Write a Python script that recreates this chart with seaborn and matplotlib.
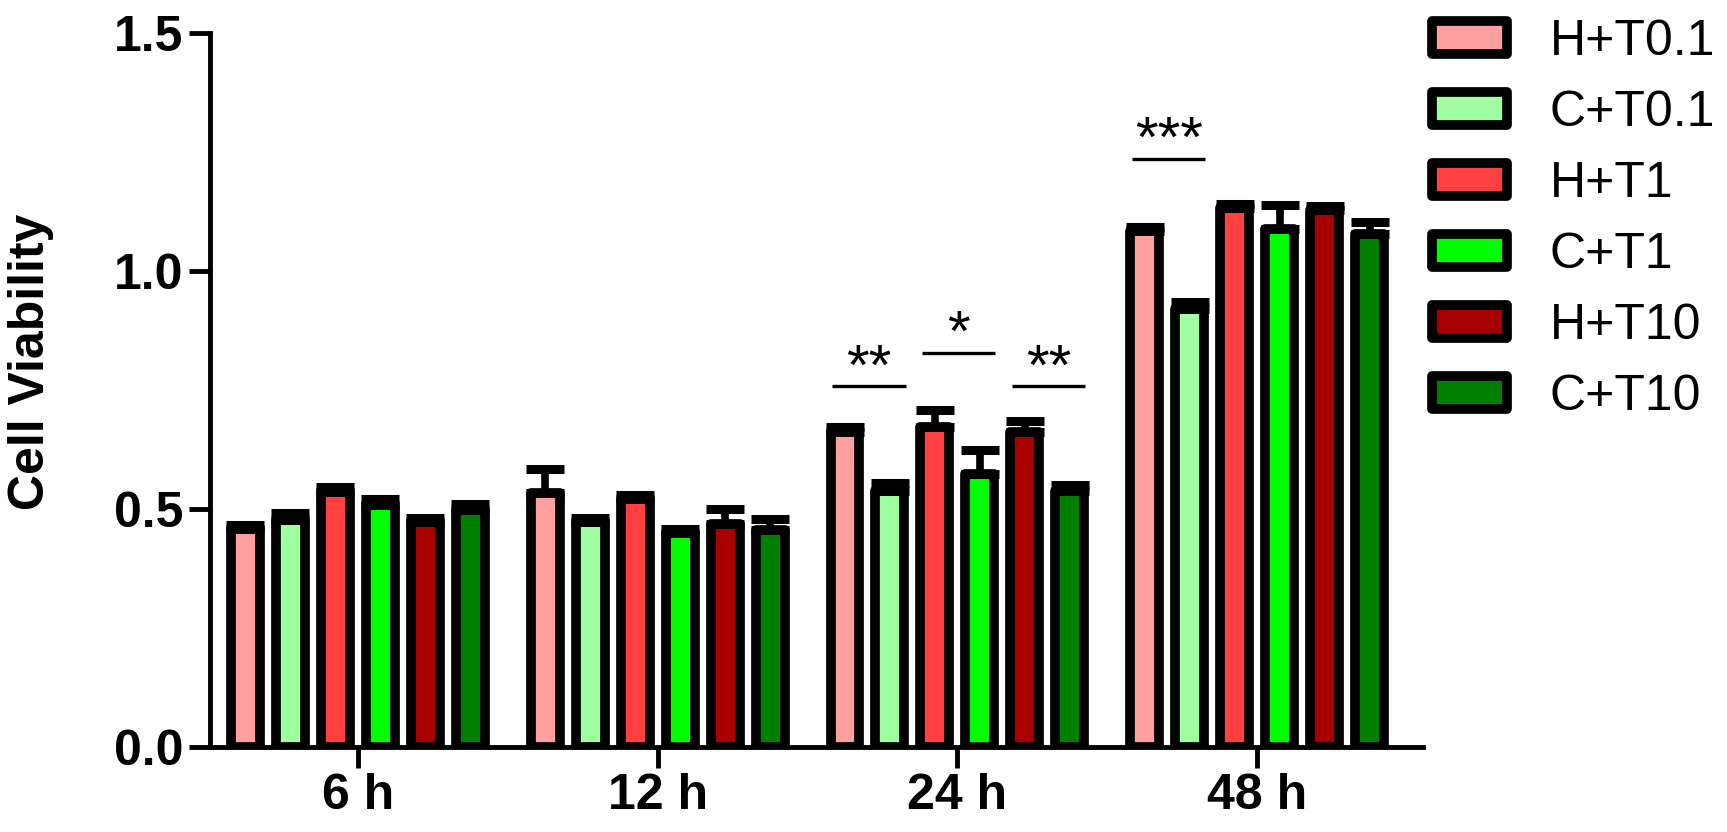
"""Cell viability bar chart (GraphPad-like style) with seaborn."""

import matplotlib
matplotlib.use("Agg")
import matplotlib.pyplot as plt
import numpy as np
import pandas as pd
import seaborn as sns

# ---- data ----
times = ["6 h", "12 h", "24 h", "48 h"]
groups = ["H+T0.1", "C+T0.1", "H+T1", "C+T1", "H+T10", "C+T10"]
colors = ["#FFA0A0", "#A0FFA0", "#FF4040", "#00FF00", "#A80000", "#008000"]

h_t01 = [0.457, 0.534, 0.662, 1.085]
c_t01 = [0.476, 0.473, 0.538, 0.920]
h_t1 = [0.536, 0.520, 0.672, 1.133]
c_t1 = [0.508, 0.450, 0.574, 1.088]
h_t10 = [0.473, 0.468, 0.662, 1.128]
c_t10 = [0.498, 0.456, 0.538, 1.078]

h_t01_err = [0.010, 0.050, 0.010, 0.008]
c_t01_err = [0.015, 0.008, 0.016, 0.015]
h_t1_err = [0.010, 0.010, 0.035, 0.008]
c_t1_err = [0.012, 0.008, 0.050, 0.050]
h_t10_err = [0.008, 0.032, 0.022, 0.008]
c_t10_err = [0.012, 0.022, 0.012, 0.025]

# significance marks: time index, the two compared groups, line height, label
sig_time = [2, 2, 2, 3]
sig_left = [0, 2, 4, 0]
sig_right = [1, 3, 5, 1]
sig_line_y = [0.758, 0.828, 0.758, 1.235]
sig_text = ["**", "*", "**", "***"]

means = [h_t01, c_t01, h_t1, c_t1, h_t10, c_t10]
errs = [h_t01_err, c_t01_err, h_t1_err, c_t1_err, h_t10_err, c_t10_err]

rows = []
for g, vals in zip(groups, means):
    for t, v in zip(times, vals):
        rows.append({"time": t, "group": g, "value": v})
df = pd.DataFrame(rows)

sns.set_style("ticks")
plt.rcParams["font.family"] = ["Liberation Sans", "DejaVu Sans"]
for key in ["text.color", "axes.labelcolor", "xtick.color", "ytick.color",
            "axes.edgecolor"]:
    plt.rcParams[key] = "black"

fig = plt.figure(figsize=(17.27, 8.32), dpi=100)
ax = fig.add_axes([210 / 1727, 85 / 832, 1213 / 1727, 714 / 832])

sns.barplot(
    data=df, x="time", y="value", hue="group", order=times, hue_order=groups,
    palette=colors, saturation=1, width=0.9, gap=0.356, edgecolor="black",
    linewidth=7, errorbar=None, legend=False, ax=ax,
)
bar_conts = list(ax.containers)

# error bars (upper only) at the bar centres seaborn laid out
for cont, err in zip(bar_conts, errs):
    xs, ys = [], []
    for bar in cont.patches:
        bar.set_joinstyle("round")
        xs.append(bar.get_x() + bar.get_width() / 2)
        ys.append(bar.get_height())
    ax.errorbar(xs, ys, yerr=[np.zeros(len(err)), err], fmt="none",
                ecolor="black", elinewidth=5.5, capsize=14, capthick=6.5,
                zorder=1)

# significance brackets
for t, a, b, y, lab in zip(sig_time, sig_left, sig_right, sig_line_y, sig_text):
    xa = bar_conts[a].patches[t]
    xb = bar_conts[b].patches[t]
    x0 = xa.get_x() + xa.get_width() / 2 - 0.042
    x1 = xb.get_x() + xb.get_width() / 2 + 0.052
    ax.plot([x0, x1], [y, y], color="black", lw=2.4, solid_capstyle="butt")
    ax.text((x0 + x1) / 2, y + 0.004, lab, ha="center", va="baseline",
            fontsize=42, color="black")

ax.set_xlim(-0.493, 3.553)
ax.set_ylim(0, 1.5)
ax.set_yticks([0, 0.5, 1.0, 1.5])
ax.set_yticklabels([f"{v:.1f}" for v in [0, 0.5, 1.0, 1.5]])
ax.set_xlabel("")
ax.set_ylabel("Cell Viability", fontsize=36, fontweight="bold")
ax.yaxis.set_label_coords(-0.129, 0.54)
ax.tick_params(axis="both", direction="out", length=15, width=3.5,
               labelsize=36, pad=4)
for lab in ax.get_xticklabels() + ax.get_yticklabels():
    lab.set_fontweight("bold")
sns.despine(ax=ax)
for side in ["left", "bottom"]:
    ax.spines[side].set_linewidth(3.5)

handles = [c.patches[0] for c in bar_conts]
leg = ax.legend(
    handles, groups, loc="upper left", bbox_to_anchor=(1432 / 1727, 0.977),
    bbox_transform=fig.transFigure, frameon=False, fontsize=36,
    handlelength=1.5, handleheight=0.64, handletextpad=0.85, labelspacing=0.5,
    borderpad=0, borderaxespad=0,
)
for h in leg.legend_handles:
    h.set_linewidth(7)
    h.set_edgecolor("black")
    h.set_joinstyle("round")

fig.savefig("out.png", dpi=100)
